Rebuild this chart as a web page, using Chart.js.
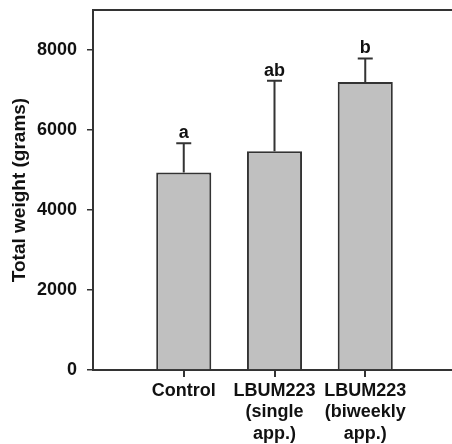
<!DOCTYPE html>
<html>
<head>
<meta charset="utf-8">
<script src="https://cdn.jsdelivr.net/npm/chart.js@4"></script>
<style>
  html, body { margin: 0; padding: 0; background: #fff; overflow: hidden; }
  #wrap { width: 466px; height: 444px; }
</style>
</head>
<body>
<div id="wrap"><canvas id="chart"></canvas></div>
<script>
// data
const categories = [["Control"], ["LBUM223", "(single", "app.)"], ["LBUM223", "(biweekly", "app.)"]];
const meanWeight = [4940, 5470, 7200];
const errorUp = [730, 1760, 590];
const letters = ["a", "ab", "b"];
const yTicks = [0, 2000, 4000, 6000, 8000];

const ink = "#333333";
const font = "'Liberation Sans', Arial, sans-serif";

// pad one empty slot each side so bars sit where the original ones do
const labels = [""].concat(categories, [""]);
const values = [null].concat(meanWeight, [null]);

// error bars, significance letters and category tick marks
const errorBars = {
  id: "errorBars",
  afterDatasetsDraw(chart) {
    const ctx = chart.ctx;
    const y = chart.scales.y;
    const bars = chart.getDatasetMeta(0).data;
    ctx.save();
    ctx.strokeStyle = ink;
    ctx.lineWidth = 2;
    ctx.fillStyle = "#111";
    ctx.font = "bold 18px " + font;
    ctx.textAlign = "center";
    ctx.textBaseline = "alphabetic";
    meanWeight.forEach((m, i) => {
      const bar = bars[i + 1];
      const top = y.getPixelForValue(m + errorUp[i]);
      ctx.beginPath();
      ctx.moveTo(bar.x, bar.y);
      ctx.lineTo(bar.x, top);
      ctx.moveTo(bar.x - 7.5, top);
      ctx.lineTo(bar.x + 7.5, top);
      ctx.stroke();
      ctx.fillText(letters[i], bar.x, top - 5);
    });
    ctx.restore();
  },
  afterDraw(chart) {
    const a = chart.chartArea;
    const ctx = chart.ctx;
    const bars = chart.getDatasetMeta(0).data;
    ctx.save();
    ctx.strokeStyle = ink;
    ctx.lineWidth = 2;
    // frame: top line (right side falls outside the window)
    ctx.beginPath();
    ctx.moveTo(a.left, a.top);
    ctx.lineTo(a.right, a.top);
    ctx.lineTo(a.right, a.bottom);
    ctx.stroke();
    // category tick marks below the axis
    ctx.fillStyle = ink;
    meanWeight.forEach((m, i) => {
      const bx = bars[i + 1].x;
      ctx.fillRect(Math.round(bx) - 1, a.bottom, 2, 7);
    });
    ctx.restore();
  }
};

new Chart(document.getElementById("chart"), {
  type: "bar",
  data: {
    labels: labels,
    datasets: [{
      data: values,
      backgroundColor: "#c0c0c0",
      borderColor: ink,
      borderWidth: 2,
      barPercentage: 0.607,
      categoryPercentage: 1
    }]
  },
  options: {
    responsive: true,
    maintainAspectRatio: false,
    animation: false,
    layout: { padding: { top: 10, right: 10, left: 0, bottom: 0 } },
    plugins: { legend: { display: false }, tooltip: { enabled: false } },
    scales: {
      x: {
        offset: false,
        border: { color: ink, width: 2 },
        grid: { display: false, tickLength: 6 },
        ticks: {
          autoSkip: false,
          maxRotation: 0,
          padding: 4,
          color: "#111",
          font: { family: font, size: 18, weight: "bold", lineHeight: 1.2 }
        },
        afterFit: (s) => { s.height = 74; s.paddingLeft = 0; s.paddingRight = 0; }
      },
      y: {
        min: 0,
        max: 9000,
        border: { color: ink, width: 2 },
        grid: { drawOnChartArea: false, tickLength: 6, lineWidth: 1.5, tickColor: ink },
        ticks: {
          stepSize: 2000,
          padding: 10,
          color: "#111",
          font: { family: font, size: 18, weight: "bold" },
          callback: (v) => String(v)
        },
        afterBuildTicks: (s) => { s.ticks = yTicks.map((v) => ({ value: v })); },
        title: {
          display: true,
          text: "Total weight (grams)",
          color: "#111",
          padding: { top: 8, bottom: 0 },
          font: { family: font, size: 19, weight: "bold" }
        },
        afterFit: (s) => { s.width = 93; s.paddingTop = 0; s.paddingBottom = 0; }
      }
    }
  },
  plugins: [errorBars]
});
</script>
</body>
</html>
